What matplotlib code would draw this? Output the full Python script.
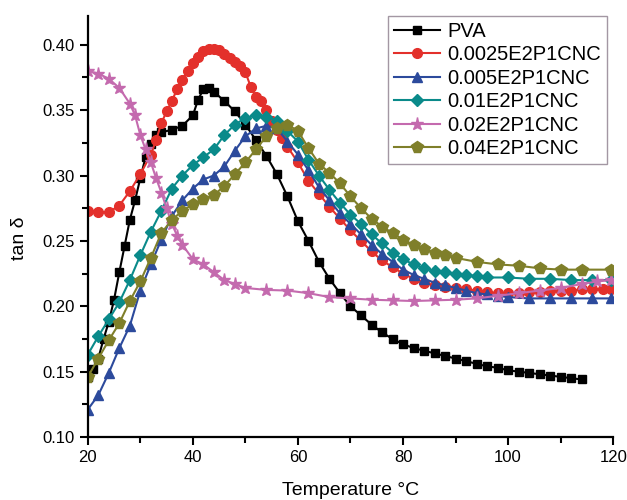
import matplotlib
matplotlib.use("Agg")
import matplotlib.pyplot as plt
from matplotlib.ticker import MultipleLocator, FormatStrFormatter

plt.rcParams['font.family'] = ['Liberation Sans', 'DejaVu Sans']

# PVA
t_pva = [20, 21, 22, 23, 24, 25, 26, 27, 28, 29, 30, 31, 32, 33, 34, 36, 38, 40, 41, 42, 43, 44,
         46, 48, 50, 52, 54, 56, 58, 60, 62, 64, 66, 68, 70, 72, 74, 76, 78, 80, 82, 84, 86, 88,
         90, 92, 94, 96, 98, 100, 102, 104, 106, 108, 110, 112, 114]
v_pva = [0.146, 0.152, 0.160, 0.175, 0.188, 0.205, 0.226, 0.246, 0.266, 0.281, 0.298, 0.314,
         0.324, 0.331, 0.333, 0.335, 0.338, 0.346, 0.358, 0.366, 0.367, 0.364, 0.357, 0.349,
         0.339, 0.327, 0.315, 0.301, 0.284, 0.265, 0.250, 0.234, 0.221, 0.210, 0.200, 0.193,
         0.186, 0.180, 0.175, 0.171, 0.168, 0.166, 0.164, 0.162, 0.160, 0.158, 0.156, 0.154,
         0.153, 0.151, 0.150, 0.149, 0.148, 0.147, 0.146, 0.145, 0.144]

# 0.0025E2P1CNC
t_red = [20, 22, 24, 26, 28, 30, 32, 33, 34, 35, 36, 37, 38, 39, 40, 41, 42, 43, 44, 45, 46, 47,
         48, 49, 50, 51, 52, 53, 54, 55, 56, 57, 58, 60, 62, 64, 66, 68, 70, 72, 74, 76, 78, 80,
         82, 84, 86, 88, 90, 92, 94, 96, 98, 100, 102, 104, 106, 108, 110, 112, 114, 116, 118, 119.5]
v_red = [0.273, 0.272, 0.272, 0.277, 0.288, 0.301, 0.316, 0.327, 0.340, 0.349, 0.357, 0.366,
         0.373, 0.380, 0.386, 0.391, 0.395, 0.397, 0.397, 0.396, 0.393, 0.390, 0.387, 0.384,
         0.379, 0.368, 0.360, 0.357, 0.350, 0.342, 0.335, 0.329, 0.322, 0.310, 0.296, 0.286,
         0.276, 0.267, 0.258, 0.250, 0.242, 0.235, 0.230, 0.225, 0.221, 0.218, 0.216, 0.215,
         0.214, 0.213, 0.212, 0.211, 0.210, 0.210, 0.210, 0.211, 0.211, 0.212, 0.212, 0.212,
         0.213, 0.213, 0.213, 0.213]

# 0.005E2P1CNC
t_blue = [20, 22, 24, 26, 28, 30, 32, 34, 36, 38, 40, 42, 44, 46, 48, 50, 52, 54, 56, 58, 60,
          62, 64, 66, 68, 70, 72, 74, 76, 78, 80, 82, 84, 86, 88, 90, 92, 94, 96, 98, 100, 104,
          108, 112, 116, 119.5]
v_blue = [0.121, 0.132, 0.149, 0.168, 0.185, 0.212, 0.232, 0.251, 0.269, 0.281, 0.290, 0.297,
          0.300, 0.307, 0.319, 0.330, 0.336, 0.338, 0.336, 0.326, 0.316, 0.304, 0.291, 0.281,
          0.271, 0.263, 0.255, 0.247, 0.240, 0.234, 0.228, 0.224, 0.221, 0.218, 0.216, 0.214,
          0.212, 0.210, 0.209, 0.208, 0.207, 0.206, 0.206, 0.206, 0.206, 0.206]

# 0.01E2P1CNC
t_teal = [20, 22, 24, 26, 28, 30, 32, 34, 36, 38, 40, 42, 44, 46, 48, 50, 52, 54, 56, 58, 60,
          62, 64, 66, 68, 70, 72, 74, 76, 78, 80, 82, 84, 86, 88, 90, 92, 94, 96, 100, 104, 108,
          112, 116, 119.5]
v_teal = [0.163, 0.177, 0.190, 0.203, 0.220, 0.239, 0.257, 0.273, 0.290, 0.300, 0.308, 0.314,
          0.320, 0.331, 0.339, 0.344, 0.346, 0.345, 0.342, 0.334, 0.326, 0.312, 0.300, 0.289,
          0.279, 0.270, 0.263, 0.255, 0.248, 0.241, 0.236, 0.232, 0.229, 0.227, 0.226, 0.225,
          0.224, 0.223, 0.222, 0.222, 0.221, 0.221, 0.220, 0.220, 0.220]

# 0.02E2P1CNC
t_pink = [20, 22, 24, 26, 28, 29, 30, 31, 32, 33, 34, 35, 36, 37, 38, 40, 42, 44, 46, 48, 50,
          54, 58, 62, 66, 70, 74, 78, 82, 86, 90, 94, 98, 102, 106, 110, 114, 117, 119.5]
v_pink = [0.380, 0.378, 0.374, 0.367, 0.355, 0.346, 0.331, 0.320, 0.310, 0.298, 0.287, 0.275,
          0.263, 0.254, 0.247, 0.236, 0.232, 0.226, 0.220, 0.217, 0.214, 0.2125, 0.212, 0.210,
          0.207, 0.206, 0.205, 0.2045, 0.204, 0.2045, 0.205, 0.206, 0.208, 0.210, 0.212, 0.214,
          0.217, 0.219, 0.220]

# 0.04E2P1CNC
t_olive = [20, 22, 24, 26, 28, 30, 32, 34, 36, 38, 40, 42, 44, 46, 48, 50, 52, 54, 56, 58, 60,
           62, 64, 66, 68, 70, 72, 74, 76, 78, 80, 82, 84, 86, 88, 90, 94, 98, 102, 106, 110,
           114, 119.5]
v_olive = [0.146, 0.160, 0.174, 0.187, 0.204, 0.219, 0.237, 0.256, 0.266, 0.273, 0.278, 0.282,
           0.285, 0.292, 0.301, 0.310, 0.320, 0.330, 0.336, 0.339, 0.334, 0.321, 0.309, 0.302,
           0.294, 0.284, 0.275, 0.267, 0.261, 0.256, 0.251, 0.247, 0.244, 0.241, 0.239, 0.237,
           0.234, 0.232, 0.231, 0.229, 0.228, 0.228, 0.228]

series = [
    ("PVA", t_pva, v_pva, "#000000", "s", 6),
    ("0.0025E2P1CNC", t_red, v_red, "#e3302b", "o", 7),
    ("0.005E2P1CNC", t_blue, v_blue, "#2c4a9c", "^", 7.5),
    ("0.01E2P1CNC", t_teal, v_teal, "#0a8a8a", "D", 6),
    ("0.02E2P1CNC", t_pink, v_pink, "#c46aae", "*", 9.5),
    ("0.04E2P1CNC", t_olive, v_olive, "#7f7f2a", "p", 8.5),
]

fig = plt.figure(figsize=(6.27, 5.00), dpi=100)
ax = fig.add_axes([0.140, 0.126, 0.838, 0.842])

for name, t, v, c, m, ms in series:
    ax.plot(t, v, color=c, marker=m, markersize=ms, markeredgecolor=c,
            markerfacecolor=c, linewidth=1.5, label=name)

ax.set_xlim(20, 120)
ax.set_ylim(0.10, 0.422)
ax.xaxis.set_major_locator(MultipleLocator(20))
ax.xaxis.set_minor_locator(MultipleLocator(10))
ax.yaxis.set_major_locator(MultipleLocator(0.05))
ax.yaxis.set_minor_locator(MultipleLocator(0.025))
ax.yaxis.set_major_formatter(FormatStrFormatter('%.2f'))

for side in ['top', 'right']:
    ax.spines[side].set_visible(False)
for side in ['left', 'bottom']:
    ax.spines[side].set_linewidth(1.6)

ax.tick_params(which='major', direction='out', length=6, width=1.5, labelsize=12)
ax.tick_params(which='minor', direction='out', length=4, width=1.5)

ax.set_xlabel("Temperature °C", fontsize=14, labelpad=12)
ax.set_ylabel("tan δ", fontsize=14)
ax.yaxis.set_label_coords(-0.114, 0.472)

leg = ax.legend(loc='upper right', bbox_to_anchor=(0.988, 1.0), fontsize=14.5, frameon=True,
                fancybox=False, edgecolor='#8c7d8c', handlelength=2.3, borderaxespad=0.0,
                labelspacing=0.22, handletextpad=0.35, borderpad=0.3)
leg.get_frame().set_linewidth(1.0)

fig.savefig("out.png", dpi=100)
